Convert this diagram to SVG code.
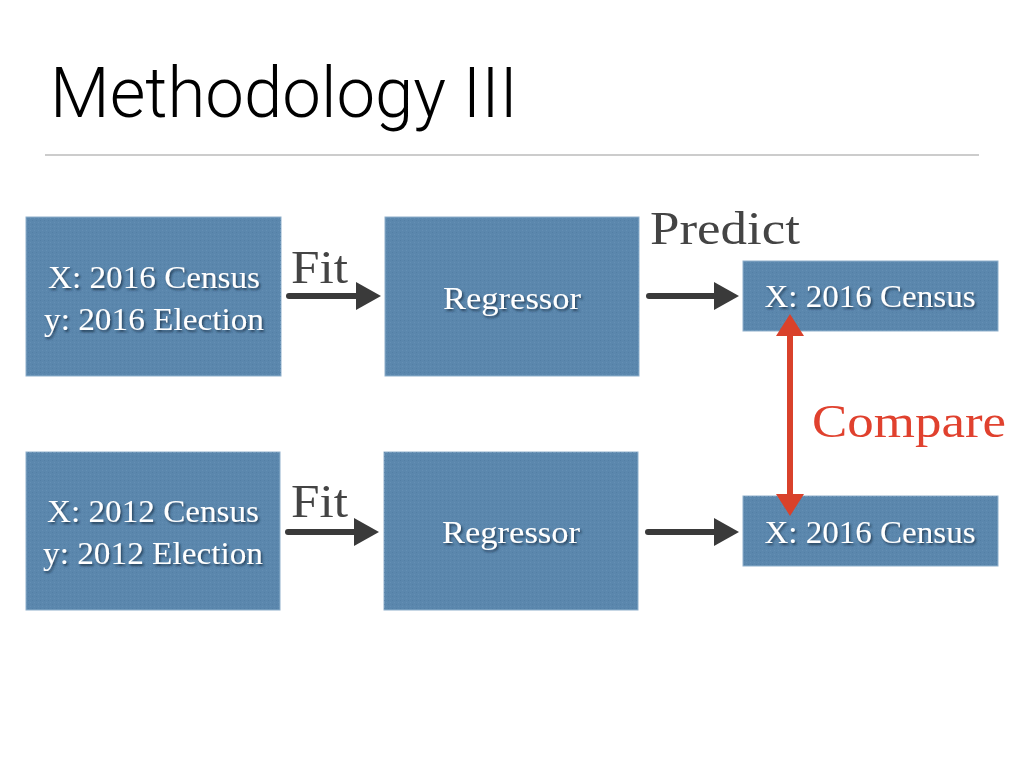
<svg xmlns="http://www.w3.org/2000/svg" width="1024" height="768" viewBox="0 0 1024 768">
<defs>
<style>
.box{fill:#5b87ad;stroke:#8fb0cc;stroke-width:1}
.tex{fill:url(#grain)}
.bt{font-family:"Liberation Serif","DejaVu Serif",serif;font-size:32px;fill:#ffffff;text-anchor:middle;filter:url(#sh)}
.lbl{font-family:"Liberation Serif","DejaVu Serif",serif;font-size:47px;fill:#444444}
.arr{stroke:#3a3a3a;stroke-width:6;fill:none;stroke-linecap:round}
.ah{fill:#3a3a3a}
</style>
<pattern id="grain" width="4" height="4" patternUnits="userSpaceOnUse">
<rect x="0" y="0" width="1" height="1" fill="#4f7aa0" opacity="0.6"/>
<rect x="2" y="2" width="1" height="1" fill="#6a95b9" opacity="0.6"/>
</pattern>
<filter id="sh" x="-10%" y="-30%" width="130%" height="160%">
<feDropShadow dx="1.5" dy="2" stdDeviation="1" flood-color="#1f3347" flood-opacity="0.8"/>
</filter>
</defs>
<text x="50" y="117" font-family="Roboto,'Liberation Sans',sans-serif" font-weight="300" font-size="70" fill="#000" textLength="468" lengthAdjust="spacingAndGlyphs">Methodology III</text>
<line x1="45" y1="155" x2="979" y2="155" stroke="#cccccc" stroke-width="2"/>
<g id="n1"><rect class="box" x="26" y="217" width="255" height="159"/><rect class="tex" x="26" y="217" width="255" height="159"/><text class="bt" x="154" y="288" textLength="212" lengthAdjust="spacingAndGlyphs">X: 2016 Census</text><text class="bt" x="154" y="330" textLength="220" lengthAdjust="spacingAndGlyphs">y: 2016 Election</text></g>
<g id="n2"><rect class="box" x="385" y="217" width="254" height="159"/><rect class="tex" x="385" y="217" width="254" height="159"/><text class="bt" x="512" y="309" textLength="138" lengthAdjust="spacingAndGlyphs">Regressor</text></g>
<g id="n3"><rect class="box" x="743" y="261" width="255" height="70"/><rect class="tex" x="743" y="261" width="255" height="70"/><text class="bt" x="870" y="307" textLength="211" lengthAdjust="spacingAndGlyphs">X: 2016 Census</text></g>
<g id="n4"><rect class="box" x="26" y="452" width="254" height="158"/><rect class="tex" x="26" y="452" width="254" height="158"/><text class="bt" x="153" y="522" textLength="212" lengthAdjust="spacingAndGlyphs">X: 2012 Census</text><text class="bt" x="153" y="564" textLength="220" lengthAdjust="spacingAndGlyphs">y: 2012 Election</text></g>
<g id="n5"><rect class="box" x="384" y="452" width="254" height="158"/><rect class="tex" x="384" y="452" width="254" height="158"/><text class="bt" x="511" y="543" textLength="138" lengthAdjust="spacingAndGlyphs">Regressor</text></g>
<g id="n6"><rect class="box" x="743" y="496" width="255" height="70"/><rect class="tex" x="743" y="496" width="255" height="70"/><text class="bt" x="870" y="543" textLength="211" lengthAdjust="spacingAndGlyphs">X: 2016 Census</text></g>
<g id="labels">
<text class="lbl" x="291" y="283" textLength="57" lengthAdjust="spacingAndGlyphs">Fit</text>
<text class="lbl" x="291" y="517" textLength="57" lengthAdjust="spacingAndGlyphs">Fit</text>
<text class="lbl" x="650" y="244" textLength="150" lengthAdjust="spacingAndGlyphs">Predict</text>
<text class="lbl" x="812" y="437" style="fill:#e0412e" textLength="194" lengthAdjust="spacingAndGlyphs">Compare</text>
</g>
<g id="connectors">
<line class="arr" x1="289" y1="296" x2="360" y2="296"/><polygon class="ah" points="356,282 381,296 356,310"/>
<line class="arr" x1="649" y1="296" x2="718" y2="296"/><polygon class="ah" points="714,282 739,296 714,310"/>
<line class="arr" x1="288" y1="532" x2="358" y2="532"/><polygon class="ah" points="354,518 379,532 354,546"/>
<line class="arr" x1="648" y1="532" x2="718" y2="532"/><polygon class="ah" points="714,518 739,532 714,546"/>
<line x1="790" y1="330" x2="790" y2="498" stroke="#d9412b" stroke-width="6"/>
<polygon points="790,314 776,336 804,336" fill="#d9412b"/>
<polygon points="790,516 776,494 804,494" fill="#d9412b"/>
</g>
</svg>
